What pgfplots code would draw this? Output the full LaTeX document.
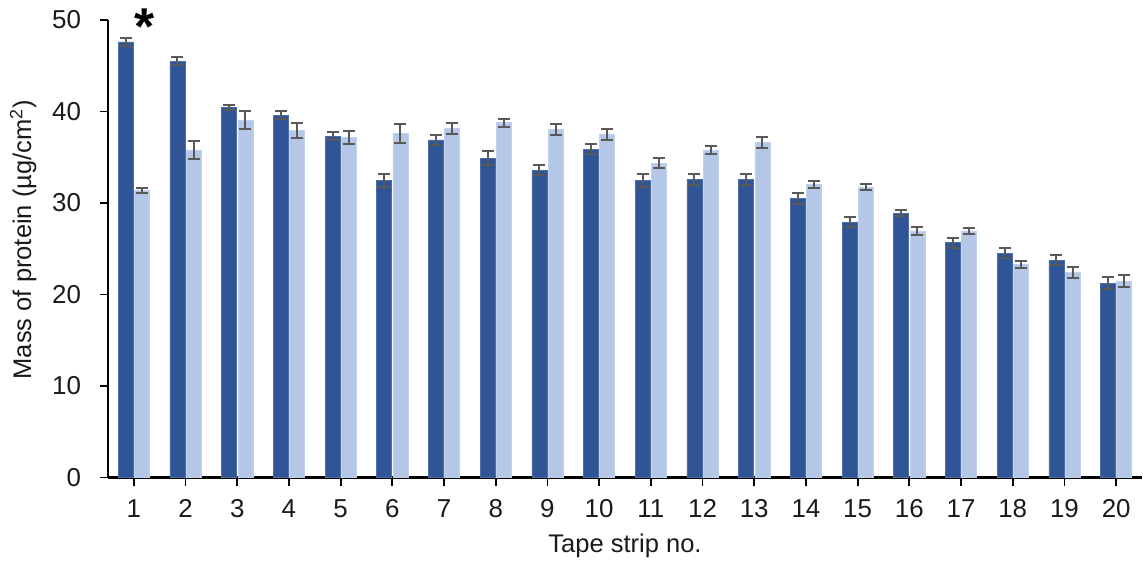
\documentclass[border=0pt]{standalone}
\usepackage{fontspec}
\setmainfont{Liberation Sans}
\usepackage{pgfplots}
\pgfplotsset{compat=1.18}
\definecolor{darkb}{HTML}{2F5597}
\definecolor{lightb}{HTML}{B4C7E7}
\definecolor{errc}{HTML}{595959}
\definecolor{txt}{HTML}{1A1A1A}
\begin{document}
\begin{tikzpicture}
\path[use as bounding box] (-54bp,-43.25bp) rectangle (517.5bp,238.75bp);
\begin{axis}[
  scale only axis, width=517bp, height=228.75bp,
  xmin=0.5, xmax=20.5, ymin=0, ymax=50,
  ybar=0.6bp, bar width=7.5bp,
  axis x line*=bottom, axis y line*=left,
  x axis line style={line width=1.1bp, black},
  y axis line style={line width=0.6bp, black},
  xtick={1,...,20}, ytick={0,10,...,50},
  tick align=outside, major tick length=4bp,
  x tick style={line width=0.9bp, black},
  y tick style={line width=0.6bp, black},
  /pgf/number format/assume math mode=true,
  tick label style={font=\fontsize{13}{15}\selectfont, text=txt},
  xticklabel style={yshift=-3.5bp},
  yticklabel style={xshift=-6bp},
  xlabel={Tape strip no.},
  ylabel={Mass of protein (µg/cm\textsuperscript{2})},
  label style={font=\fontsize{12.8}{15}\selectfont, text=txt},
  xlabel style={at={(axis description cs:0.5,0)}, anchor=center, yshift=-34bp},
  ylabel style={at={(axis description cs:-0.082,0.52)}, anchor=center},
  clip=false,
  error bars/error bar style={line width=1bp, errc},
  error bars/error mark options={line width=1bp, errc, mark size=3bp, rotate=90},
]
\addplot[fill=darkb, draw=darkb!85!white, line width=0.3bp,
  error bars/.cd, y dir=both, y explicit]
  table[x=x, y=y, y error=e] {
x y e
1 47.6 0.4
2 45.5 0.45
3 40.45 0.3
4 39.6 0.45
5 37.3 0.45
6 32.5 0.7
7 36.9 0.58
8 34.9 0.73
9 33.6 0.55
10 35.9 0.55
11 32.5 0.7
12 32.6 0.62
13 32.6 0.62
14 30.5 0.62
15 27.9 0.55
16 28.9 0.35
17 25.66 0.55
18 24.5 0.55
19 23.77 0.55
20 21.22 0.67
};
\addplot[fill=lightb, draw=lightb!80!white, line width=0.3bp,
  error bars/.cd, y dir=both, y explicit]
  table[x=x, y=y, y error=e] {
x y e
1 31.35 0.25
2 35.8 0.95
3 39.07 0.95
4 37.9 0.82
5 37.2 0.7
6 37.6 1.04
7 38.16 0.62
8 38.78 0.45
9 38.05 0.6
10 37.5 0.6
11 34.34 0.56
12 35.8 0.47
13 36.6 0.62
14 32.04 0.4
15 31.75 0.33
16 26.94 0.42
17 26.94 0.36
18 23.33 0.38
19 22.38 0.62
20 21.47 0.67
};
\node[anchor=north, inner sep=0pt, yshift=6bp, font=\fontsize{26}{26}\selectfont\bfseries] at (axis cs:1.2,50) {*};
\end{axis}
\end{tikzpicture}
\end{document}
